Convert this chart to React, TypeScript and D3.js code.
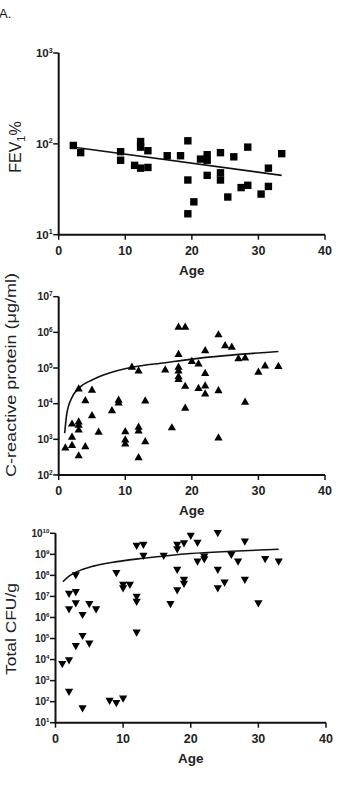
import * as d3 from 'd3';

// Panel 1: FEV1 % vs age
const FEV_AGE = [2.2, 3.3, 9.3, 9.3, 11.4, 12.3, 12.3, 12.3, 13.4, 13.4, 16.3, 18.3, 19.4, 19.4, 20.3, 19.4, 21.3, 22.3, 22.3, 22.3, 24.3, 24.3, 24.3, 25.4, 26.3, 27.4, 28.4, 28.4, 30.4, 31.5, 31.5, 33.5];
const FEV_VAL = [96, 80, 82, 66, 58, 106, 92, 54, 84, 55, 74, 74, 108, 40, 23, 17, 68, 76, 66, 45, 80, 48, 40, 26, 72, 33, 35, 92, 28, 34, 54, 78];
const FEV_FIT_AGE = [2.6, 33.5];
const FEV_FIT_VAL = [91, 45];

// Panel 2: C-reactive protein vs age
const CRP_AGE = [1, 2, 2, 2, 3, 3, 3, 3, 3, 4, 4, 5, 5, 6, 8, 9, 9, 10, 10, 10, 11, 12, 12, 12, 12, 13, 13, 16, 17, 18, 18, 18, 18, 18, 18, 19, 19, 19, 20, 21, 21, 22, 22, 22, 22, 24, 24, 24, 25, 26, 27, 28, 28, 30, 31, 33];
const CRP_VAL = [600, 2800, 1200, 700, 27000, 3200, 2600, 1900, 360, 12600, 650, 25000, 4800, 1650, 6600, 13000, 11000, 1700, 1000, 780, 110000, 87000, 2300, 1800, 320, 12500, 900, 92000, 2200, 1450000, 250000, 110000, 87000, 60000, 50000, 1450000, 32000, 7800, 160000, 135000, 28000, 320000, 74000, 33000, 19500, 890000, 24000, 1150, 440000, 400000, 190000, 200000, 11500, 80000, 120000, 115000];
const CRP_FIT_AGE = [0.9, 1.2, 2, 3, 5, 7.5, 11, 16, 20, 25, 33];
const CRP_FIT_VAL = [1500, 5000, 15000, 27000, 46000, 71000, 105000, 141000, 178000, 222000, 290000];

// Panel 3: total CFU/g vs age
const CFU_AGE = [1, 2, 2, 2, 2, 3, 3, 3, 3, 4, 4, 4, 5, 5, 6, 8, 9, 9, 10, 10, 10, 11, 12, 12, 12, 12, 13, 13, 16, 17, 18, 18, 18, 18, 19, 19, 19, 20, 21, 21, 22, 22, 24, 24, 24, 25, 26, 27, 28, 28, 30, 31, 33];
const CFU_VAL = [6000, 9000, 290, 1.3e7, 2.4e6, 1.0e8, 1.6e7, 4.6e6, 4.3e4, 1.3e6, 1.3e5, 47, 4.3e6, 5.7e4, 2.4e6, 107, 1.26e8, 85, 137, 2.4e7, 3.5e7, 3.5e7, 2.5e9, 9.5e6, 5.5e6, 1.9e5, 2.8e9, 8.3e8, 8.3e8, 4.3e6, 2.8e9, 1.7e9, 1.8e8, 1.9e7, 3.3e9, 6e7, 3.9e7, 7.4e9, 3.5e9, 4.5e8, 7.7e8, 5.7e8, 1e10, 1.8e8, 2.4e7, 4.5e7, 9.2e8, 4.5e8, 4e9, 6e7, 4.6e6, 5.8e8, 4.5e8];
const CFU_FIT_AGE = [1.1, 2, 3.2, 5.6, 9.1, 13, 20, 26, 33];
const CFU_FIT_VAL = [5e7, 9.3e7, 1.5e8, 2.75e8, 4.5e8, 6.5e8, 1.1e9, 1.4e9, 1.74e9];

const X_TICKS = [0, 10, 20, 30, 40];
const FONT = 'Arial, "Liberation Sans", Helvetica, sans-serif';

type Marker = 'square' | 'up' | 'down';

interface PanelProps {
  ages: number[];
  vals: number[];
  fitAges: number[];
  fitVals: number[];
  left: number;
  right: number;
  top: number;
  bottom: number;
  minExp: number;
  maxExp: number;
  marker: Marker;
  tickSize: number;
}

function markerPath(m: Marker) {
  if (m === 'square') return 'M-3.7,-3.7H3.7V3.7H-3.7Z';
  if (m === 'up') return 'M0,-4L4.1,3.2L-4.1,3.2Z';
  return 'M-4.1,-3.2L4.1,-3.2L0,4Z';
}

function Panel(p: PanelProps) {
  const x = d3.scaleLinear().domain([0, 40]).range([p.left, p.right]);
  const y = d3.scaleLog().domain([10 ** p.minExp, 10 ** p.maxExp]).range([p.bottom, p.top]);
  const exps = d3.range(p.minExp, p.maxExp + 1);
  const fit = d3
    .line<number>()
    .x((_, i) => x(p.fitAges[i]))
    .y((d) => y(d))
    .curve(d3.curveMonotoneX)(p.fitVals);
  const path = markerPath(p.marker);

  return (
    <g>
      {/* fit line */}
      <path d={fit ?? ''} fill="none" stroke="#111" strokeWidth={1.6} />
      {/* points */}
      {p.ages.map((a, i) => (
        <path key={i} d={path} transform={`translate(${x(a)},${y(p.vals[i])})`} fill="#000" />
      ))}
      {/* axes */}
      <line x1={p.left} x2={p.left} y1={p.top} y2={p.bottom} stroke="#111" strokeWidth={2} />
      <line x1={p.left - 1} x2={p.right} y1={p.bottom} y2={p.bottom} stroke="#111" strokeWidth={2} />
      {exps.map((e) => (
        <g key={e}>
          <line x1={p.left - 5.5} x2={p.left} y1={y(10 ** e)} y2={y(10 ** e)} stroke="#111" strokeWidth={1.5} />
          <text
            x={p.left - 6}
            y={y(10 ** e) + p.tickSize * 0.36}
            textAnchor="end"
            fontFamily={FONT}
            fontWeight="bold"
            fontSize={p.tickSize}
            fill="#222"
          >
            10
            <tspan dy={-p.tickSize * 0.4} fontSize={p.tickSize * 0.62}>
              {e}
            </tspan>
          </text>
        </g>
      ))}
      {X_TICKS.map((t) => (
        <g key={t}>
          <line x1={x(t)} x2={x(t)} y1={p.bottom} y2={p.bottom + 5} stroke="#111" strokeWidth={1.5} />
          <text x={x(t)} y={p.bottom + 20} textAnchor="middle" fontFamily={FONT} fontWeight="bold" fontSize={12.5} fill="#222">
            {t}
          </text>
        </g>
      ))}
      <text
        x={(p.left + p.right) / 2}
        y={p.bottom + 40}
        textAnchor="middle"
        fontFamily={FONT}
        fontWeight="bold"
        fontSize={13.5}
        fill="#222"
      >
        Age
      </text>
    </g>
  );
}

export default function App() {
  return (
    <svg
      width={338}
      height={793}
      style={{ position: 'absolute', left: 0, top: 0, background: '#fff' }}
    >
      <text x={-1} y={18} fontFamily={FONT} fontSize={13} fill="#111">
        A.
      </text>

      <Panel
        ages={FEV_AGE}
        vals={FEV_VAL}
        fitAges={FEV_FIT_AGE}
        fitVals={FEV_FIT_VAL}
        left={58.7}
        right={325}
        top={53}
        bottom={234.7}
        minExp={1}
        maxExp={3}
        marker="square"
        tickSize={11.5}
      />
      <text transform="translate(20.5,147) rotate(-90)" textAnchor="middle" fontFamily={FONT} fontSize={16} fill="#222">
        FEV
        <tspan dy={4} fontSize={11}>1</tspan>
        <tspan dy={-4}>%</tspan>
      </text>

      <Panel
        ages={CRP_AGE}
        vals={CRP_VAL}
        fitAges={CRP_FIT_AGE}
        fitVals={CRP_FIT_VAL}
        left={58.7}
        right={325}
        top={296.7}
        bottom={475}
        minExp={2}
        maxExp={7}
        marker="up"
        tickSize={10.5}
      />
      <text
        transform="translate(16,375) rotate(-90)"
        textAnchor="middle"
        fontFamily={FONT}
        fontSize={14}
        fill="#222"
        textLength={204}
        lengthAdjust="spacingAndGlyphs"
      >
        C-reactive protein (μg/ml)
      </text>

      <Panel
        ages={CFU_AGE}
        vals={CFU_VAL}
        fitAges={CFU_FIT_AGE}
        fitVals={CFU_FIT_VAL}
        left={55.5}
        right={326}
        top={533.3}
        bottom={722.7}
        minExp={1}
        maxExp={10}
        marker="down"
        tickSize={10}
      />
      <text
        transform="translate(16,629) rotate(-90)"
        textAnchor="middle"
        fontFamily={FONT}
        fontSize={14}
        fill="#222"
        textLength={92}
        lengthAdjust="spacingAndGlyphs"
      >
        Total CFU/g
      </text>
    </svg>
  );
}
